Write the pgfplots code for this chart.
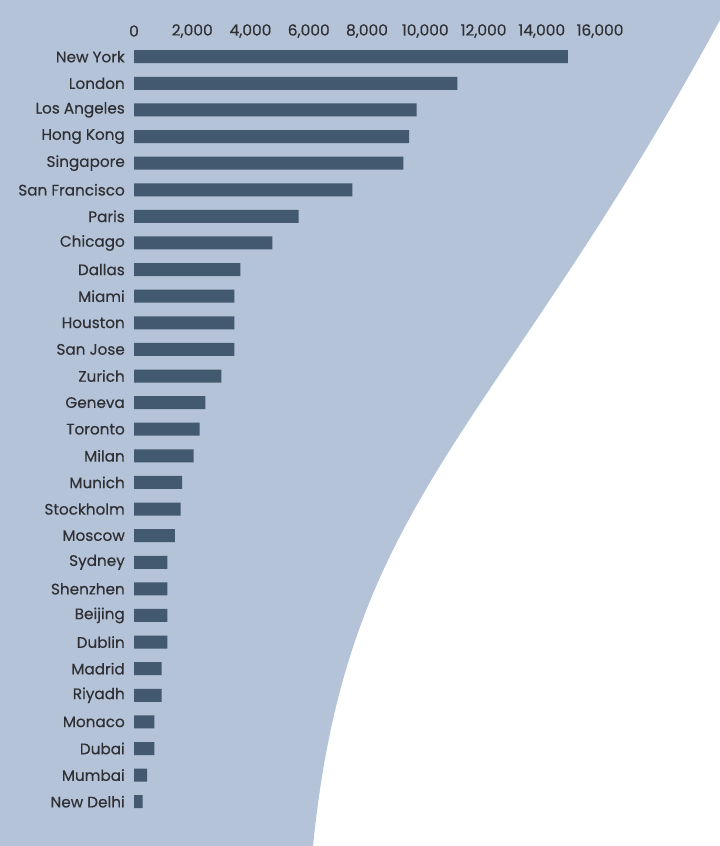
\documentclass[border=0pt]{standalone}
\usepackage{pgfplots}
\pgfplotsset{compat=1.18}
\usepackage{fontspec}
\setmainfont{Poppins}[FakeBold=0.35]
\definecolor{bgblue}{HTML}{B4C3D7}
\definecolor{barblue}{HTML}{425970}
\definecolor{txt}{HTML}{2F3035}

\begin{document}
\begin{tikzpicture}
% backdrop with the sweeping right edge
\begin{scope}[x=1bp,y=-1bp]
  \path[use as bounding box] (0,0) rectangle (720,846);
  \fill[bgblue] (0,0) -- (720,0) -- (720,20)
    .. controls (495,435) and (348,496) .. (313,846)
    -- (0,846) -- cycle;
\end{scope}

\begin{axis}[
  at={(134bp,-43.4bp)}, anchor=north west,
  scale only axis, width=466bp, height=771.6bp,
  xmin=0, xmax=16000, ymin=-0.5, ymax=28.5, y dir=reverse,
  xbar, bar width=13bp, bar shift=0pt,
  axis line style={draw=none}, major tick length=0pt,
  xtick={0,2000,...,16000}, xticklabel pos=upper,
  scaled x ticks=false,
  /pgf/number format/.cd, 1000 sep={,}, assume math mode=true, /pgfplots/.cd,
  xticklabel style={font=\fontsize{15.5}{15.5}\selectfont, text=txt,
    anchor=center, yshift=12.4bp},
  ytick={0,...,28},
  yticklabels={New York, London, Los Angeles, Hong Kong, Singapore,
    San Francisco, Paris, Chicago, Dallas, Miami, Houston, San Jose,
    Zurich, Geneva, Toronto, Milan, Munich, Stockholm, Moscow, Sydney,
    Shenzhen, Beijing, Dublin, Madrid, Riyadh, Monaco, Dubai, Mumbai,
    New Delhi},
  yticklabel style={font=\fontsize{15.3}{15.3}\selectfont, text=txt,
    anchor=east, inner sep=0pt, xshift=-9bp},
]
\addplot[fill=barblue, draw=none] coordinates {
  (14900,0) (11100,1) (9700,2) (9450,3) (9250,4)
  (7500,5) (5650,6) (4750,7) (3650,8) (3450,9)
  (3450,10) (3450,11) (3000,12) (2450,13) (2250,14)
  (2050,15) (1650,16) (1600,17) (1400,18) (1150,19)
  (1150,20) (1150,21) (1150,22) (950,23) (950,24)
  (700,25) (700,26) (450,27) (300,28)};
\end{axis}
\end{tikzpicture}
\end{document}
